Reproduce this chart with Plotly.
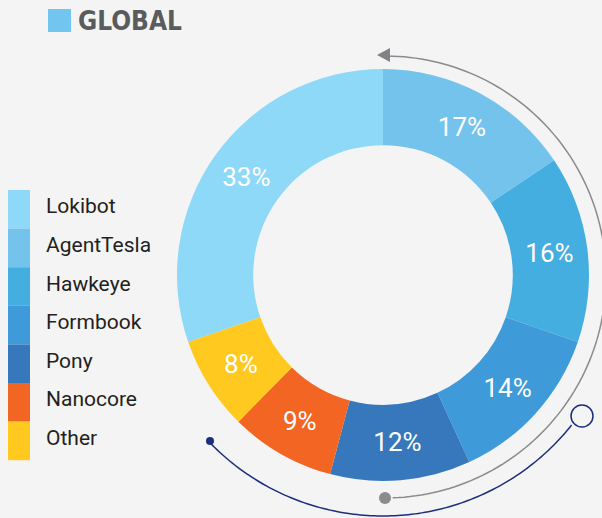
import math
import plotly.graph_objects as go

# Malware family shares (legend order)
families = ["Lokibot", "AgentTesla", "Hawkeye", "Formbook", "Pony", "Nanocore", "Other"]
shares = [33, 17, 16, 14, 12, 9, 8]
colors = ["#8ed8f8", "#74c3ec", "#45aee1", "#3e9ad8", "#3777bc", "#f26522", "#ffc91f"]
title_text = "GLOBAL"

W, H = 602, 518
BG = "#f4f4f4"


def px(x):
    return x / W


def py(y):
    return 1 - y / H


def arc_path(cx, cy, r, a0, a1, n=120):
    # angles in degrees, clockwise from 12 o'clock, pixel space
    pts = []
    for i in range(n + 1):
        a = math.radians(a0 + (a1 - a0) * i / n)
        x = cx + r * math.sin(a)
        y = cy - r * math.cos(a)
        pts.append(f"{px(x):.5f},{py(y):.5f}")
    return "M " + " L ".join(pts)


# Lokibot ends at 12 o'clock, the rest follow clockwise
start_rot = -360 * shares[0] / sum(shares)

fig = go.Figure(
    go.Pie(
        labels=families,
        values=shares,
        sort=False,
        direction="clockwise",
        rotation=start_rot,
        hole=0.63,
        marker=dict(colors=colors, line=dict(width=0)),
        texttemplate="%{value}%",
        textposition="inside",
        insidetextorientation="horizontal",
        textfont=dict(family="Roboto", size=26, color="white"),
        domain=dict(x=[px(177), px(589)], y=[37 / H, 449 / H]),
        showlegend=False,
        hoverinfo="label+value",
    )
)

shapes = []
annotations = []

# Title marker and text
shapes.append(dict(type="rect", xref="paper", yref="paper",
                   x0=px(48), x1=px(71), y0=py(32), y1=py(9),
                   fillcolor="#72c5ee", line=dict(width=0)))
annotations.append(dict(xref="paper", yref="paper", x=px(76), y=py(21),
                        xanchor="left", yanchor="middle", showarrow=False,
                        text=f"<b>{title_text}</b>",
                        font=dict(family="DejaVu Sans Condensed, Roboto", size=26, color="#5a5b5d")))

# Colour-block legend
top, step = 190, 38.6
for i, (name, col) in enumerate(zip(families, colors)):
    y0 = top + i * step
    shapes.append(dict(type="rect", xref="paper", yref="paper",
                       x0=px(8), x1=px(30), y0=py(y0 + step), y1=py(y0),
                       fillcolor=col, line=dict(width=0)))
    annotations.append(dict(xref="paper", yref="paper", x=px(44), y=py(y0 + step / 2 - 3),
                            xanchor="left", yanchor="middle", showarrow=False,
                            text=name,
                            font=dict(family="Roboto", size=21, color="#231f20")))

# Grey arrow arc around the right side
shapes.append(dict(type="path", xref="paper", yref="paper",
                   path=arc_path(385, 277, 221, -1, 178),
                   line=dict(color="#8a8b8d", width=1.5)))
shapes.append(dict(type="path", xref="paper", yref="paper",
                   path=f"M {px(377)},{py(55)} L {px(390)},{py(48)} L {px(390)},{py(62)} Z",
                   fillcolor="#808285", line=dict(width=0)))
shapes.append(dict(type="circle", xref="paper", yref="paper",
                   x0=px(379), x1=px(391), y0=py(504), y1=py(492),
                   fillcolor="#8a8b8d", line=dict(width=0)))

# Navy arc around the bottom
shapes.append(dict(type="path", xref="paper", yref="paper",
                   path=arc_path(383, 275, 241, 226, 128.5),
                   line=dict(color="#1c2f7c", width=1.5)))
shapes.append(dict(type="circle", xref="paper", yref="paper",
                   x0=px(206), x1=px(214), y0=py(445), y1=py(437),
                   fillcolor="#1c2f7c", line=dict(width=0)))
shapes.append(dict(type="circle", xref="paper", yref="paper",
                   x0=px(571), x1=px(593), y0=py(427), y1=py(405),
                   fillcolor=BG, line=dict(color="#1c2f7c", width=1.5)))

fig.update_layout(
    width=W, height=H,
    margin=dict(l=0, r=0, t=0, b=0),
    paper_bgcolor=BG, plot_bgcolor=BG,
    shapes=shapes, annotations=annotations,
)

fig.write_html("out.html")
